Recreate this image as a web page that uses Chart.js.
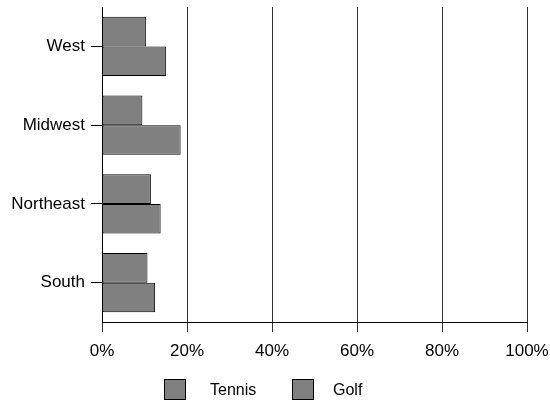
<!DOCTYPE html>
<html>
<head>
<meta charset="utf-8">
<script src="https://cdn.jsdelivr.net/npm/chart.js@4"></script>
<style>
  html, body { margin: 0; padding: 0; background: #fff; }
  #wrap { width: 550px; height: 402px; }
</style>
</head>
<body>
<div id="wrap"><canvas id="chart"></canvas></div>
<script>
const REGIONS = ['West', 'Midwest', 'Northeast', 'South'];
const TENNIS = [10.4, 9.5, 11.5, 10.7];
const GOLF = [15.1, 18.5, 13.8, 12.5];
const SERIES_NAMES = ['Tennis', 'Golf'];

const FAMILY = '"Liberation Sans", Arial, sans-serif';
const AXIS_FONT = { family: FAMILY, size: 17 };

// legend drawn by hand so box/text spacing matches
const bottomLegend = {
  id: 'bottomLegend',
  afterDraw(chart) {
    const ctx = chart.ctx;
    const items = [
      { x: 164, tx: 210, ds: chart.data.datasets[0] },
      { x: 292, tx: 333, ds: chart.data.datasets[1] },
    ];
    ctx.save();
    ctx.font = `16px ${FAMILY}`;
    ctx.textBaseline = 'middle';
    items.forEach((it) => {
      ctx.fillStyle = it.ds.backgroundColor;
      ctx.fillRect(it.x, 379, 22, 21);
      ctx.strokeStyle = '#000';
      ctx.lineWidth = 1;
      ctx.strokeRect(it.x + 0.5, 379.5, 21, 20);
      ctx.fillStyle = '#000';
      ctx.fillText(it.ds.label, it.tx, 391);
    });
    ctx.restore();
  },
};

new Chart(document.getElementById('chart'), {
  type: 'bar',
  data: {
    labels: REGIONS,
    datasets: [
      {
        label: SERIES_NAMES[0],
        data: TENNIS,
        backgroundColor: '#808080',
        borderColor: '#000',
        borderWidth: 1,
        borderSkipped: false,
      },
      {
        label: SERIES_NAMES[1],
        data: GOLF,
        backgroundColor: '#808080',
        borderColor: '#000',
        borderWidth: 1,
        borderSkipped: false,
      },
    ],
  },
  options: {
    indexAxis: 'y',
    responsive: true,
    maintainAspectRatio: false,
    animation: false,
    datasets: { bar: { categoryPercentage: 0.75, barPercentage: 1 } },
    layout: { padding: { top: 7, right: 23, left: 0, bottom: 0 } },
    plugins: {
      legend: { display: false },
      tooltip: { enabled: false },
    },
    scales: {
      x: {
        min: 0,
        max: 100,
        ticks: {
          stepSize: 20,
          callback: (v) => v + '%',
          color: '#000',
          font: AXIS_FONT,
          padding: 9,
        },
        grid: { color: '#333', lineWidth: 1, tickLength: 10 },
        border: { color: '#000' },
        afterFit: (s) => {
          s.height = 80;
          s.paddingLeft = 0;
          s.paddingRight = 0;
        },
      },
      y: {
        ticks: { color: '#000', font: AXIS_FONT, padding: 6 },
        grid: { offset: false, drawOnChartArea: false, tickLength: 11, color: '#000' },
        border: { color: '#000' },
        afterFit: (s) => {
          s.width = 102;
          s.paddingTop = 0;
          s.paddingBottom = 0;
        },
      },
    },
  },
  plugins: [bottomLegend],
});
</script>
</body>
</html>
